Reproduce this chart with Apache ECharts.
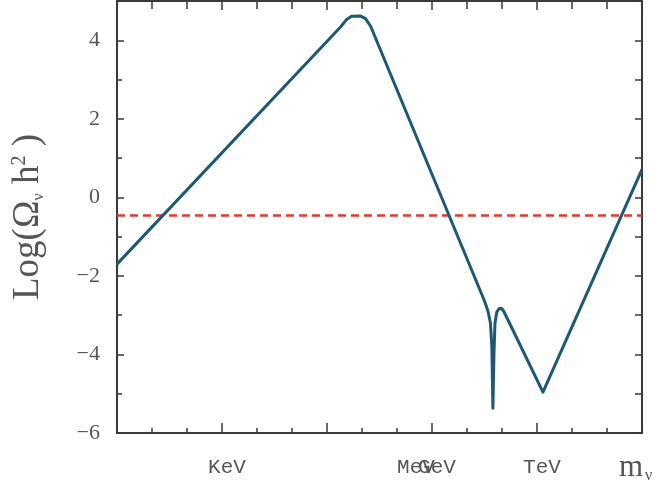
<!DOCTYPE html>
<html>
<head>
<meta charset="utf-8">
<script src="https://cdn.jsdelivr.net/npm/echarts@6/dist/echarts.min.js"></script>
<style>
  html, body { margin: 0; padding: 0; background: #fff; }
  #chart { width: 653px; height: 495px; }
</style>
</head>
<body>
<div id="chart"></div>
<script>
// Relic density of a stable neutrino vs its mass (log10 of mass in eV)
const massLog = [0, 6.4, 6.55, 6.7, 6.95, 7.1, 7.25, 10.5, 10.6, 10.67, 10.71, 10.74,
  10.77, 10.8, 10.85, 10.92, 10.99, 11.05, 12.17, 15];
const omegaLog = [-1.70, 4.35, 4.52, 4.61, 4.62, 4.55, 4.35, -2.64, -2.9, -3.2, -3.8, -5.37,
  -4.0, -3.2, -2.92, -2.83, -2.83, -2.9, -4.96, 0.71];

// Observed dark-matter density level
const observedLevel = -0.46;

// Energy-scale tick labels and where they sit (log10 eV)
const scaleLabelPos = [3, 8.4, 9, 12];
const scaleLabelText = ['KeV', 'MeV', 'GeV', 'TeV'];

const axisColor = '#3a3a3a';

const chart = echarts.init(document.getElementById('chart'), null, { renderer: 'canvas' });

chart.setOption({
  animation: false,
  backgroundColor: '#fff',
  grid: { left: 117, right: 11, top: 1, bottom: 62 },
  xAxis: [
    {
      type: 'value', position: 'bottom', min: 0, max: 15, interval: 3,
      axisLine: { show: true, onZero: false, lineStyle: { color: axisColor, width: 2 } },
      axisTick: { show: true, inside: true, length: 10, lineStyle: { color: axisColor, width: 1.5 } },
      minorTick: { show: true, splitNumber: 3, length: 5, lineStyle: { color: axisColor, width: 1.5 } },
      splitLine: { show: false },
      axisLabel: {
        customValues: scaleLabelPos,
        formatter: v => {
          const i = scaleLabelPos.findIndex(p => Math.abs(p - v) < 1e-6);
          return i >= 0 ? scaleLabelText[i] : '';
        },
        fontFamily: 'Liberation Mono', fontSize: 21, color: '#555',
        margin: 24, padding: [0, 0, 0, 10]
      }
    },
    {
      type: 'value', position: 'top', min: 0, max: 15, interval: 3,
      axisLine: { show: true, onZero: false, lineStyle: { color: axisColor, width: 2 } },
      axisTick: { show: true, inside: true, length: 9, lineStyle: { color: axisColor, width: 1.5 } },
      minorTick: { show: true, splitNumber: 3, length: 8, lineStyle: { color: axisColor, width: 1.5 } },
      splitLine: { show: false },
      axisLabel: { show: false }
    }
  ],
  yAxis: [
    {
      type: 'value', position: 'left', min: -6, max: 5, interval: 2,
      axisLine: { show: true, onZero: false, lineStyle: { color: axisColor, width: 2 } },
      axisTick: { show: true, inside: true, length: 7, lineStyle: { color: axisColor, width: 1.5 } },
      minorTick: { show: true, splitNumber: 2, length: 5, lineStyle: { color: axisColor, width: 1.5 } },
      splitLine: { show: false },
      axisLabel: {
        showMaxLabel: false,
        formatter: v => (v > 4 ? '' : String(v).replace('-', '\u2212')),
        fontFamily: 'Liberation Serif', fontSize: 22, color: '#555', margin: 17
      },
      name: '{t|Log(Ω}{s|ν}{t| h}{p|2}{t| )}',
      nameLocation: 'middle', nameGap: 70, nameRotate: 90,
      nameTextStyle: {
        rich: {
          t: { fontFamily: 'Liberation Serif', fontSize: 37, color: '#555' },
          s: { fontFamily: 'Liberation Serif', fontSize: 16, color: '#555', verticalAlign: 'bottom', padding: [18, 0, 0, 0] },
          p: { fontFamily: 'Liberation Serif', fontSize: 20, color: '#555', verticalAlign: 'top', padding: [0, 0, 16, 0] }
        }
      }
    },
    {
      type: 'value', position: 'right', min: -6, max: 5, interval: 2,
      axisLine: { show: true, onZero: false, lineStyle: { color: axisColor, width: 2 } },
      axisTick: { show: true, inside: true, length: 7, lineStyle: { color: axisColor, width: 1.5 } },
      minorTick: { show: true, splitNumber: 2, length: 7, lineStyle: { color: axisColor, width: 1.5 } },
      splitLine: { show: false },
      axisLabel: { show: false }
    }
  ],
  graphic: [
    {
      type: 'text', left: 619, top: 452, silent: true,
      style: {
        text: '{m|m}{n|ν}',
        rich: {
          m: { fontFamily: 'Liberation Serif', fontSize: 31, fill: '#555' },
          n: { fontFamily: 'Liberation Serif', fontSize: 16, fill: '#555', padding: [16, 0, 0, 2] }
        }
      }
    }
  ],
  series: [
    {
      type: 'line', xAxisIndex: 0, yAxisIndex: 0,
      data: [[0, observedLevel], [15, observedLevel]],
      symbol: 'none', silent: true, z: 2,
      lineStyle: { color: '#e23b2b', width: 2.5, type: [8, 5] }
    },
    {
      type: 'line', xAxisIndex: 0, yAxisIndex: 0,
      data: massLog.map((m, i) => [m, omegaLog[i]]),
      symbol: 'none', silent: true, z: 3, smooth: false,
      lineStyle: { color: '#1d5877', width: 3, join: 'round' }
    }
  ]
});
</script>
</body>
</html>
